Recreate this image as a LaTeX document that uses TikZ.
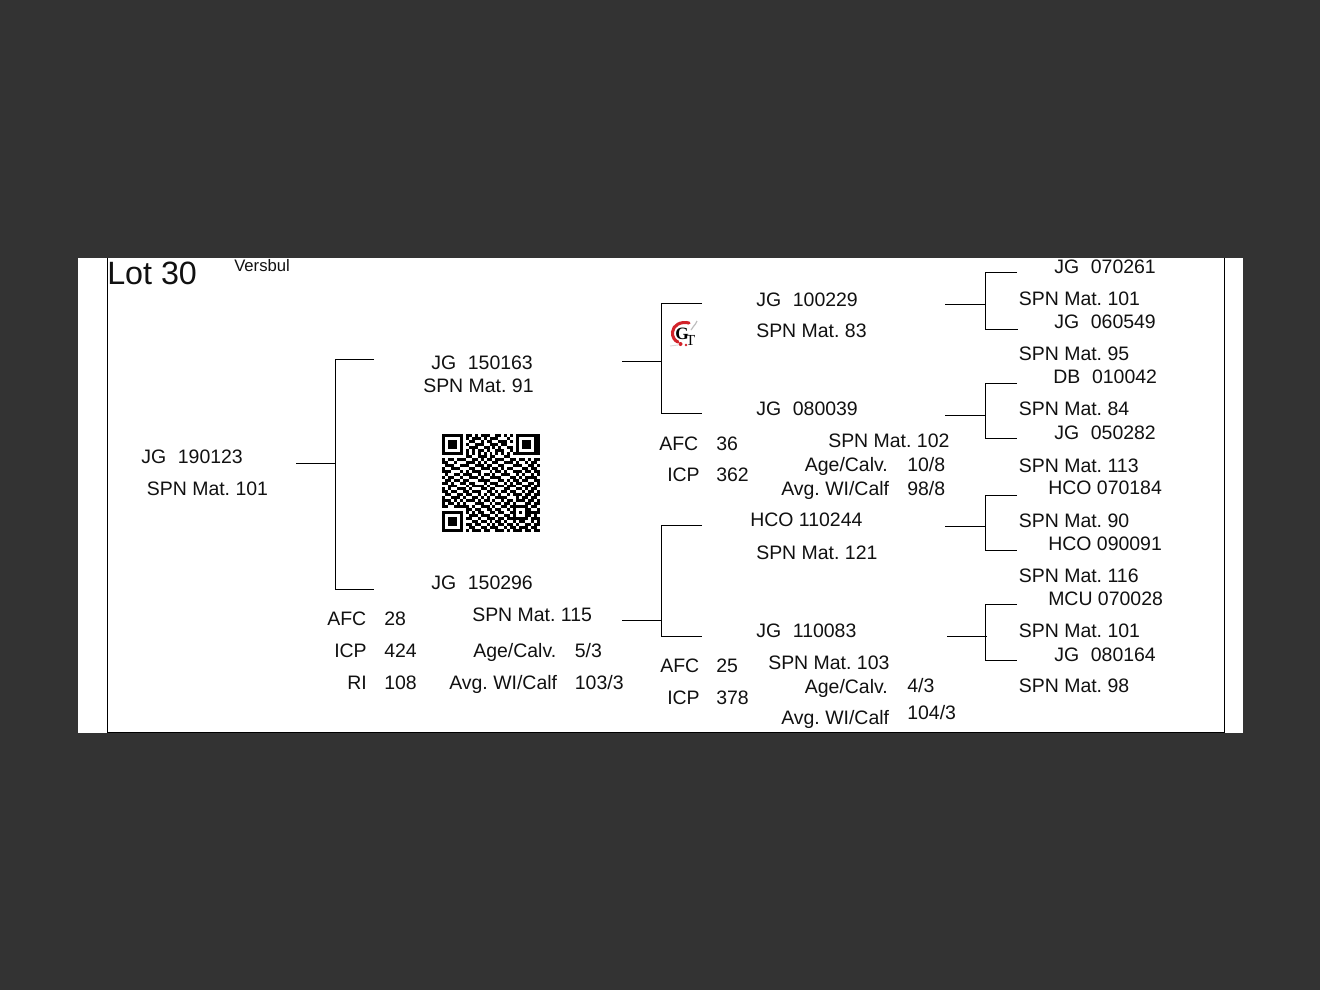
\documentclass[tikz,border=0pt]{standalone}
\usepackage{fontspec}
\setmainfont{Liberation Sans}
\newfontfamily\logofont{Liberation Serif}
\frenchspacing
\definecolor{pagebg}{HTML}{333333}
\definecolor{inkc}{HTML}{111111}
\definecolor{logored}{HTML}{D2232A}
\newcount\qx
\newcount\qy
\def\QRparse#1{\ifx#1;\global\qx=0 \global\advance\qy by 1 \else
  \if#11\fill[black] ({442+2.97*\the\qx},{434+2.97*\the\qy}) rectangle ++(2.97,2.97);\fi
  \global\advance\qx by 1 \expandafter\QRparse\fi}
\newcommand\TX[4]{\node[txt] (#1) at (#2,#3) {#4};}
\newcommand\GAP{\hspace{8.8pt}}
\tikzset{
  txt/.style={anchor=base west,inner sep=0pt,font=\fontsize{14.6}{16}\selectfont\frenchspacing,text=inkc},
  conn/.style={draw=black,line width=0.75pt},
  framel/.style={draw=black,line width=0.8pt}
}
\begin{document}
\begin{tikzpicture}[x=0.75pt,y=-0.75pt]
\useasboundingbox (0,0) rectangle (1320,990);
\fill[pagebg] (0,0) rectangle (1320,990);
\fill[white] (78,258) rectangle (1243,733);
\coordinate (fa) at (107.5,258);
\coordinate (fb) at (107.5,732.5);
\coordinate (fc) at (1224.5,732.5);
\coordinate (fd) at (1224.5,258);
\draw[framel] (fa) -- (fb) -- (fc) -- (fd);
\node[txt,font=\fontsize{24.2}{26}\selectfont] (lot) at (107,284) {Lot 30};
\node[txt,font=\fontsize{12.5}{14}\selectfont] (versbul) at (234,271) {Versbul};
% column 1
\TX{a1}{141}{463}{JG\GAP 190123}
\TX{a2}{146.6}{495}{SPN Mat. 101}
% column 2
\TX{b1}{431}{369}{JG\GAP 150163}
\TX{b2}{423}{392}{SPN Mat. 91}
\TX{c1}{431}{589}{JG\GAP 150296}
\TX{c2}{472}{621}{SPN Mat. 115}
\TX{c3}{327}{625}{AFC}
\TX{c4}{384}{625}{28}
\TX{c5}{334}{657}{ICP}
\TX{c6}{384}{657}{424}
\TX{c7}{347}{689}{RI}
\TX{c8}{384}{689}{108}
\TX{c9}{473}{657}{Age/Calv.}
\TX{c10}{574.6}{657}{5/3}
\TX{c11}{449}{689}{Avg. WI/Calf}
\TX{c12}{574.6}{689}{103/3}
% column 3
\TX{d1}{756}{306}{JG\GAP 100229}
\TX{d2}{756}{337}{SPN Mat. 83}
\TX{e1}{756}{415}{JG\GAP 080039}
\TX{e2}{659}{450}{AFC}
\TX{e3}{716}{450}{36}
\TX{e4}{667}{481}{ICP}
\TX{e5}{716}{481}{362}
\TX{e6}{828}{447}{SPN Mat. 102}
\TX{e7}{804.6}{471}{Age/Calv.}
\TX{e8}{907}{471}{10/8}
\TX{e9}{781}{495}{Avg. WI/Calf}
\TX{e10}{907}{495}{98/8}
\TX{f1}{750}{526}{HCO 110244}
\TX{f2}{756}{559}{SPN Mat. 121}
\TX{g1}{756}{637}{JG\GAP 110083}
\TX{g2}{660}{672}{AFC}
\TX{g3}{716}{672}{25}
\TX{g4}{667}{704}{ICP}
\TX{g5}{716}{704}{378}
\TX{g6}{768}{669}{SPN Mat. 103}
\TX{g7}{804.6}{693}{Age/Calv.}
\TX{g8}{907}{692}{4/3}
\TX{g9}{781}{724}{Avg. WI/Calf}
\TX{g10}{907}{719}{104/3}
% column 4
\TX{h1}{1054}{273}{JG\GAP 070261}
\TX{h2}{1018.6}{305}{SPN Mat. 101}
\TX{i1}{1054}{328}{JG\GAP 060549}
\TX{i2}{1018.6}{360}{SPN Mat. 95}
\TX{j1}{1053}{383}{DB\GAP 010042}
\TX{j2}{1018.6}{415}{SPN Mat. 84}
\TX{k1}{1054}{439}{JG\GAP 050282}
\TX{k2}{1018.6}{472}{SPN Mat. 113}
\TX{l1}{1048}{494}{HCO 070184}
\TX{l2}{1018.6}{527}{SPN Mat. 90}
\TX{m1}{1048}{550}{HCO 090091}
\TX{m2}{1018.6}{582}{SPN Mat. 116}
\TX{n1}{1048}{605}{MCU 070028}
\TX{n2}{1018.6}{637}{SPN Mat. 101}
\TX{o1}{1054}{661}{JG\GAP 080164}
\TX{o2}{1018.6}{692}{SPN Mat. 98}
% connectors
\coordinate (s1) at (296,463.5); \coordinate (t1a) at (374,359.5); \coordinate (t1b) at (374,589.5); \coordinate (j1) at (335.5,463.5);
\draw[conn] (s1) -- (j1); \draw[conn] (t1a) -| (j1) |- (t1b);
\coordinate (s2) at (622,361.5); \coordinate (t2a) at (702,303.5); \coordinate (t2b) at (702,413.5); \coordinate (j2) at (661.5,361.5);
\draw[conn] (s2) -- (j2); \draw[conn] (t2a) -| (j2) |- (t2b);
\coordinate (s3) at (622,620.5); \coordinate (t3a) at (702,525.5); \coordinate (t3b) at (702,636.5); \coordinate (j3) at (661.5,620.5);
\draw[conn] (s3) -- (j3); \draw[conn] (t3a) -| (j3) |- (t3b);
\coordinate (s4) at (945,304.5); \coordinate (t4a) at (1017,272.5); \coordinate (t4b) at (1018,329.5); \coordinate (j4) at (985.5,304.5);
\draw[conn] (s4) -- (j4); \draw[conn] (t4a) -| (j4) |- (t4b);
\coordinate (s5) at (945,415.5); \coordinate (t5a) at (1017,383.5); \coordinate (t5b) at (1017,438.5); \coordinate (j5) at (985.5,415.5);
\draw[conn] (s5) -- (j5); \draw[conn] (t5a) -| (j5) |- (t5b);
\coordinate (s6) at (945,526.5); \coordinate (t6a) at (1017,495.5); \coordinate (t6b) at (1017,550.5); \coordinate (j6) at (985.5,526.5);
\draw[conn] (s6) -- (j6); \draw[conn] (t6a) -| (j6) |- (t6b);
\coordinate (s7) at (947,636.5); \coordinate (t7a) at (1017,604.5); \coordinate (t7b) at (1017,660.5); \coordinate (j7) at (985.5,636.5); \coordinate (j7e) at (987,636.5);
\draw[conn] (s7) -- (j7e); \draw[conn] (t7a) -| (j7) |- (t7b);
% logo
\draw[logored,line width=2.3pt,line cap=round] (689,323) .. controls (681,321) and (673,325) .. (672.5,332) .. controls (672,337) and (675,341) .. (678,342);
\fill[logored] (680.5,344) circle (2);
\fill[logored] (686,345) circle (1.4);
\draw[gray!50,line width=0.9pt] (691,330) .. controls (692,327) and (695,326) .. (697,321);
\draw[gray!30,line width=0.7pt] (670,346) -- (678,345);
\node[font=\logofont\bfseries\fontsize{13}{13}\selectfont,inner sep=0pt] (logog) at (682,333.5) {G};
\node[font=\logofont\fontsize{11.5}{12}\selectfont,inner sep=0pt] (logot) at (690.5,340.5) {T};
% QR code
\QRparse 111111101101011100110101011111111;
\QRparse 100000101011101011100010010000011;
\QRparse 101110100110010110011101010111011;
\QRparse 101110101001110011101100010111011;
\QRparse 101110100111001101010011010111011;
\QRparse 100000101010110100111001010000011;
\QRparse 111111101010101010101010111111111;
\QRparse 000000001100111011000110000000000;
\QRparse 101101110011010110111001101101011;
\QRparse 110010001110101001100111010010110;
\QRparse 011100111001110110011000111001101;
\QRparse 100111000110011101101011000110110;
\QRparse 111000101011100010110100111011011;
\QRparse 010011011100101101001110010100101;
\QRparse 101100100111010011110001101011110;
\QRparse 011011011000111100011010110110011;
\QRparse 110100110110001011100101011001101;
\QRparse 001110001011110100111011100111011;
\QRparse 101001110100011011000110011010110;
\QRparse 110110011011100110101101100101101;
\QRparse 011001101100101011010010111011011;
\QRparse 100111010011010100111100010110110;
\QRparse 111010101110101101001011011101101;
\QRparse 101101010001110010110110100011011;
\QRparse 110011111010011101001101111110110;
\QRparse 000000001101100110110010100011001;
\QRparse 111111101010110011011001101011111;
\QRparse 100000100111011100100110100011010;
\QRparse 101110101100100111011011111110111;
\QRparse 101110100011011010110100101100101;
\QRparse 101110101101100101011011010011011;
\QRparse 100000100110011011100101101110110;
\QRparse 111111101011101100111010111011011;
\end{tikzpicture}
\end{document}
